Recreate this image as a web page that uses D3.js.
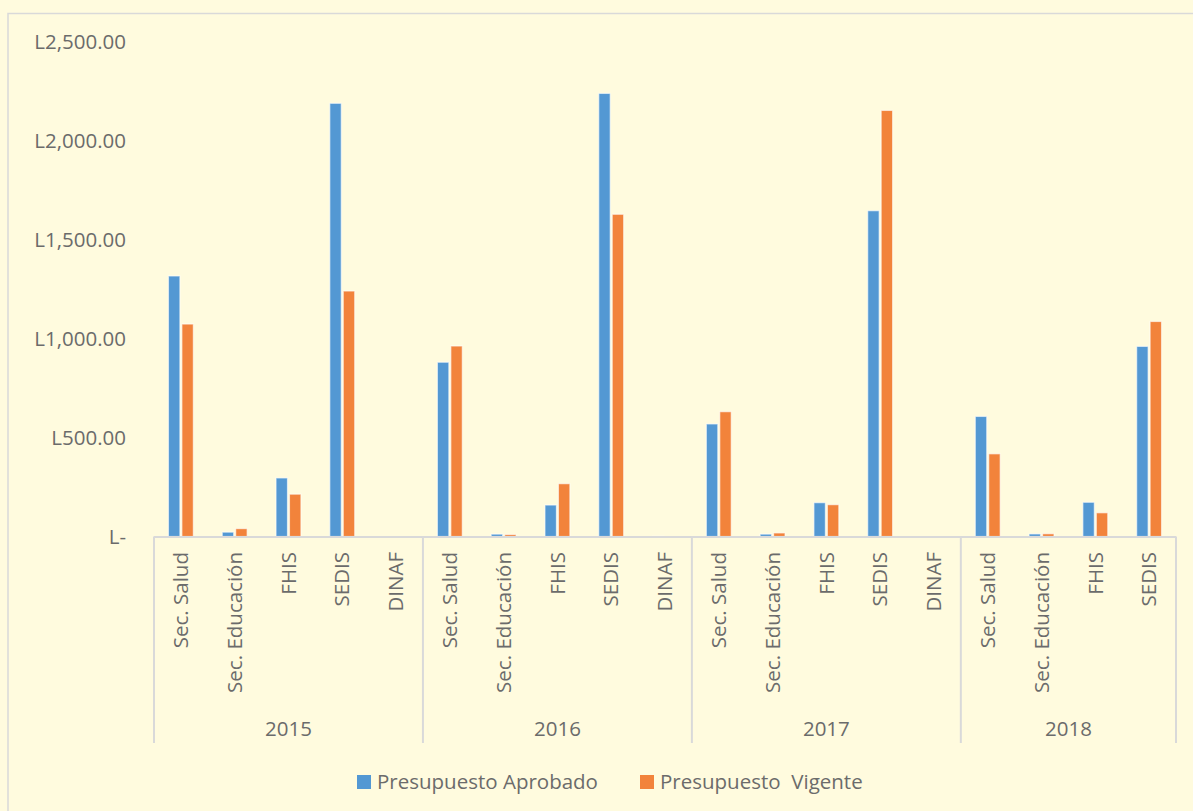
<!DOCTYPE html>
<meta charset="utf-8">
<style>
  body { margin: 0; background: #fffbde; }
  svg { display: block; font-family: "Open Sans", sans-serif; }
</style>
<body>
<div id="graph"></div>
<script src="https://cdn.jsdelivr.net/npm/d3@7"></script>
<script>
// year groups and the institutions shown under each year
var years = ["2015", "2016", "2017", "2018"];
var agencies2015 = ["Sec. Salud", "Sec. Educación", "FHIS", "SEDIS", "DINAF"];
var agencies2016 = ["Sec. Salud", "Sec. Educación", "FHIS", "SEDIS", "DINAF"];
var agencies2017 = ["Sec. Salud", "Sec. Educación", "FHIS", "SEDIS", "DINAF"];
var agencies2018 = ["Sec. Salud", "Sec. Educación", "FHIS", "SEDIS"];

// values in millions of lempiras, one per institution, in order
var aprobado = [1317, 22, 296, 2190, 0,
                881, 12, 159, 2240, 1,
                569, 12, 171, 1647, 0,
                607, 13, 173, 961];
var vigente = [1074, 40, 214, 1241, 0,
               963, 10, 267, 1629, 0,
               631, 18, 161, 2154, 0,
               418, 14, 120, 1087];

var seriesNames = ["Presupuesto Aprobado", "Presupuesto  Vigente"];
var yTicks = [0, 500, 1000, 1500, 2000, 2500];

var width = 1193, height = 811;
var plotLeft = 154, plotRight = 1176, base = 536.5, plotTop = 42;
var textColor = "#6b6b6b", lineColor = "#d9d9d9";
var colors = ["#5398d3", "#f2833b"];
var fontSize = "20.5px";

var agencyLists = [agencies2015, agencies2016, agencies2017, agencies2018];

// flatten into one row per category
var rows = [];
agencyLists.forEach(function(list, gi) {
  list.forEach(function(name) {
    var i = rows.length;
    rows.push({ key: years[gi] + "|" + name, year: years[gi], name: name,
                values: [aprobado[i], vigente[i]] });
  });
});

var svg = d3.select("#graph").append("svg")
  .attr("width", width)
  .attr("height", height);

// chart frame
svg.append("rect")
  .attr("x", 8).attr("y", 13.5)
  .attr("width", 1400).attr("height", 1000)
  .attr("fill", "#fffbde")
  .attr("stroke", lineColor)
  .attr("stroke-width", 1.5);

var x = d3.scaleBand()
  .domain(rows.map(function(d) { return d.key; }))
  .range([plotLeft, plotRight]);

var xs = d3.scaleBand()
  .domain([0, 1])
  .range([0, x.bandwidth()])
  .paddingOuter(1);

var y = d3.scaleLinear()
  .domain([0, 2500])
  .range([base, plotTop]);

// y labels (no axis line)
var yAxis = d3.axisLeft(y)
  .tickValues(yTicks)
  .tickSize(0)
  .tickPadding(0)
  .tickFormat(function(d) { return d === 0 ? "L-" : "L" + d3.format(",.2f")(d); });

svg.append("g")
  .attr("class", "y axis")
  .attr("transform", "translate(126,0)")
  .call(yAxis)
  .call(function(g) { g.select(".domain").remove(); })
  .selectAll("text")
  .attr("fill", textColor)
  .style("font-size", fontSize)
  .style("font-family", "Open Sans");

// bars
var cat = svg.selectAll(".cat")
  .data(rows)
  .enter().append("g")
  .attr("class", "cat")
  .attr("transform", function(d) { return "translate(" + x(d.key) + ",0)"; });

cat.selectAll("rect")
  .data(function(d) { return d.values; })
  .enter().append("rect")
  .attr("x", function(d, i) { return xs(i) + 1; })
  .attr("width", xs.bandwidth() - 2)
  .attr("y", function(d) { return y(d); })
  .attr("height", function(d) { return base - y(d); })
  .attr("fill", function(d, i) { return colors[i]; })
  .attr("stroke", "rgba(255,255,255,0.6)")
  .attr("stroke-width", 1.2);

// category axis line
svg.append("line")
  .attr("x1", plotLeft).attr("x2", plotRight)
  .attr("y1", base + 0.5).attr("y2", base + 0.5)
  .attr("stroke", lineColor)
  .attr("stroke-width", 2);

// category labels, rotated
cat.append("text")
  .attr("transform", function() {
    return "translate(" + (x.bandwidth() / 2) + ",552) rotate(-90)";
  })
  .attr("text-anchor", "end")
  .attr("dy", "0.35em")
  .attr("fill", textColor)
  .style("font-size", fontSize)
  .text(function(d) { return d.name; });

// year group separators and labels
var groups = years.map(function(yr) {
  var keys = rows.filter(function(d) { return d.year === yr; });
  var x0 = x(keys[0].key);
  var x1 = x(keys[keys.length - 1].key) + x.bandwidth();
  return { year: yr, x0: x0, x1: x1 };
});

var seps = [groups[0].x0].concat(groups.map(function(g) { return g.x1; }));
svg.selectAll(".sep")
  .data(seps)
  .enter().append("line")
  .attr("class", "sep")
  .attr("x1", function(d) { return d; })
  .attr("x2", function(d) { return d; })
  .attr("y1", base)
  .attr("y2", 743)
  .attr("stroke", lineColor)
  .attr("stroke-width", 2);

svg.selectAll(".year")
  .data(groups)
  .enter().append("text")
  .attr("class", "year")
  .attr("x", function(d) { return (d.x0 + d.x1) / 2; })
  .attr("y", 729)
  .attr("dy", "0.35em")
  .attr("text-anchor", "middle")
  .attr("fill", textColor)
  .style("font-size", fontSize)
  .text(function(d) { return d.year; });

// legend
var legendX = [357, 640];
var legend = svg.selectAll(".legend")
  .data(seriesNames)
  .enter().append("g")
  .attr("class", "legend")
  .attr("transform", function(d, i) { return "translate(" + legendX[i] + ",775)"; });

legend.append("rect")
  .attr("width", 14).attr("height", 14)
  .attr("fill", function(d, i) { return colors[i]; });

legend.append("text")
  .attr("x", 20)
  .attr("y", 7)
  .attr("dy", "0.35em")
  .attr("fill", textColor)
  .style("font-size", fontSize)
  .style("white-space", "pre")
  .text(function(d) { return d; });
</script>
</body>
